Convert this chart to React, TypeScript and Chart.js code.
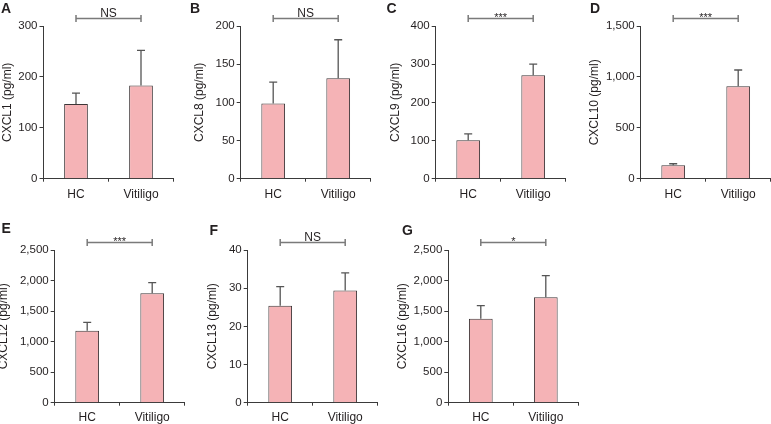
import React, { useEffect, useRef } from 'react';
import { Chart, registerables } from 'chart.js';

Chart.register(...registerables);

// ---------- data ----------
const categories = ['HC', 'Vitiligo'];
const panelLetters = ['A', 'B', 'C', 'D', 'E', 'F', 'G'];
const analytes = ['CXCL1', 'CXCL8', 'CXCL9', 'CXCL10', 'CXCL12', 'CXCL13', 'CXCL16'];
const hcMeans = [147, 98.5, 101, 132, 1180, 25.4, 1375];
const hcErrors = [21, 28, 16.5, 15, 136, 5.0, 213];
const vitMeans = [183, 131.5, 271, 907, 1791, 29.4, 1726];
const vitErrors = [69, 50.5, 29, 161, 174, 4.6, 353];
const yMax = [300, 200, 400, 1500, 2500, 40, 2500];
const yStep = [100, 50, 100, 500, 500, 10, 500];
const sigLabels = ['NS', 'NS', '***', '***', '***', 'NS', '*'];

// ---------- layout (absolute page coordinates) ----------
type Box = {
  left: number; top: number; width: number; height: number;
  axisX: number; areaTop: number; areaBottom: number;
  titleX: number; letterX: number; letterY: number; labelPad: number;
};
const layouts: Box[] = [
  { left: 0, top: 0, width: 185, height: 205, axisX: 43.5, areaTop: 26, areaBottom: 178.7, titleX: 7.5, letterX: 1, letterY: 9, labelPad: 6 },
  { left: 188, top: 0, width: 187, height: 205, axisX: 240.7, areaTop: 26, areaBottom: 178.7, titleX: 200, letterX: 190, letterY: 9, labelPad: 6 },
  { left: 383, top: 0, width: 187, height: 205, axisX: 435.7, areaTop: 26, areaBottom: 178.7, titleX: 395.5, letterX: 386.5, letterY: 9, labelPad: 6 },
  { left: 583, top: 0, width: 188, height: 205, axisX: 640.7, areaTop: 26, areaBottom: 178.7, titleX: 595, letterX: 590, letterY: 9, labelPad: 6 },
  { left: 0, top: 205, width: 190, height: 219, axisX: 54.7, areaTop: 250, areaBottom: 402.7, titleX: 4, letterX: 1.5, letterY: 229, labelPad: 5 },
  { left: 193, top: 205, width: 190, height: 219, axisX: 247.7, areaTop: 250, areaBottom: 402.7, titleX: 212.5, letterX: 209.5, letterY: 231, labelPad: 5 },
  { left: 390, top: 205, width: 195, height: 219, axisX: 448.3, areaTop: 250, areaBottom: 402.7, titleX: 403, letterX: 402, letterY: 231, labelPad: 5 },
];

const AREA_W = 130;
const FONT = '"Liberation Sans", Arial, Helvetica, sans-serif';
const TEXT = '#231f20';
const AXIS = '#3a3a3a';
const BAR_FILL = '#f5b3b6';
const BAR_EDGE = '#3d3637';
const ERR = '#555555';
const BRACKET = '#7a7a7a';

function Panel({ idx }: { idx: number }) {
  const ref = useRef<HTMLCanvasElement | null>(null);
  const L = layouts[idx];

  useEffect(() => {
    if (!ref.current) return;
    const yAxisW = L.axisX - L.left;
    const xAxisH = L.height - (L.areaBottom - L.top);
    const padRight = L.width - yAxisW - AREA_W;
    const titleLH = 12 * 1.2;
    const titlePadTop = L.titleX - L.left - titleLH / 2;
    const means = [hcMeans[idx], vitMeans[idx]];
    const errs = [hcErrors[idx], vitErrors[idx]];

    const overlay = {
      id: 'overlay' + idx,
      afterDatasetsDraw(chart: any) {
        const ctx = chart.ctx;
        const xs = chart.scales.x;
        const ys = chart.scales.y;
        ctx.save();
        // error bars (upper only)
        ctx.strokeStyle = ERR;
        ctx.lineWidth = 1.3;
        for (let i = 0; i < means.length; i++) {
          const x = xs.getPixelForValue(i);
          const y0 = ys.getPixelForValue(means[i]);
          const y1 = ys.getPixelForValue(means[i] + errs[i]);
          ctx.beginPath();
          ctx.moveTo(x, y0);
          ctx.lineTo(x, y1);
          ctx.moveTo(x - 4, y1);
          ctx.lineTo(x + 4, y1);
          ctx.stroke();
        }
        // significance bracket
        const bx0 = xs.getPixelForValue(0);
        const bx1 = xs.getPixelForValue(1);
        const by = chart.chartArea.top - 7.6;
        ctx.strokeStyle = BRACKET;
        ctx.lineWidth = 1.5;
        ctx.beginPath();
        ctx.moveTo(bx0, by);
        ctx.lineTo(bx1, by);
        ctx.moveTo(bx0, by - 3.5);
        ctx.lineTo(bx0, by + 3.5);
        ctx.moveTo(bx1, by - 3.5);
        ctx.lineTo(bx1, by + 3.5);
        ctx.stroke();
        const lab = sigLabels[idx];
        ctx.fillStyle = TEXT;
        ctx.textAlign = 'center';
        ctx.textBaseline = 'alphabetic';
        const star = lab.indexOf('*') >= 0;
        ctx.font = (star ? '11px ' : '12px ') + FONT;
        ctx.fillText(lab, (bx0 + bx1) / 2, star ? by + 2.6 : by - 1.6);
        // panel letter
        ctx.font = 'bold 14px ' + FONT;
        ctx.textAlign = 'left';
        ctx.textBaseline = 'middle';
        ctx.fillText(panelLetters[idx], L.letterX - L.left, L.letterY - L.top);
        ctx.restore();
      },
    };

    const chart = new Chart(ref.current, {
      type: 'bar',
      data: {
        labels: categories,
        datasets: [
          {
            data: means,
            backgroundColor: BAR_FILL,
            borderColor: BAR_EDGE,
            borderWidth: 1,
            barPercentage: 0.365,
            categoryPercentage: 1,
          },
        ],
      },
      options: {
        responsive: false,
        animation: false,
        events: [],
        layout: { padding: { top: L.areaTop - L.top, left: 0, right: padRight, bottom: 0 } },
        plugins: { legend: { display: false }, tooltip: { enabled: false }, title: { display: false } },
        scales: {
          x: {
            offset: true,
            grid: { display: true, offset: true, drawOnChartArea: false, drawTicks: true, tickLength: 3, color: AXIS, lineWidth: 1 },
            border: { display: true, color: AXIS, width: 1 },
            ticks: { color: TEXT, font: { family: FONT, size: 12 }, padding: L.labelPad, maxRotation: 0, autoSkip: false },
            afterFit: (s: any) => { s.height = xAxisH; },
          },
          y: {
            min: 0,
            max: yMax[idx],
            grid: { display: true, drawOnChartArea: false, drawTicks: true, tickLength: 4, color: AXIS, lineWidth: 1 },
            border: { display: true, color: AXIS, width: 1 },
            ticks: {
              stepSize: yStep[idx],
              color: TEXT,
              padding: 2,
              font: { family: FONT, size: 11.5 },
              callback: (v: any) => Number(v).toLocaleString('en-US'),
            },
            title: {
              display: true,
              text: analytes[idx] + ' (pg/ml)',
              color: TEXT,
              font: { family: FONT, size: 12 },
              padding: { top: titlePadTop, bottom: 0 },
            },
            afterFit: (s: any) => { s.width = yAxisW; },
          },
        },
      },
      plugins: [overlay],
    });
    return () => chart.destroy();
  }, [idx]);

  return (
    <canvas
      ref={ref}
      width={L.width}
      height={L.height}
      style={{ position: 'absolute', left: L.left, top: L.top, width: L.width, height: L.height }}
    />
  );
}

export default function App() {
  return (
    <div style={{ position: 'absolute', left: 0, top: 0, width: 771, height: 424, background: '#fff', overflow: 'hidden' }}>
      {layouts.map((_, i) => (
        <Panel key={i} idx={i} />
      ))}
    </div>
  );
}
